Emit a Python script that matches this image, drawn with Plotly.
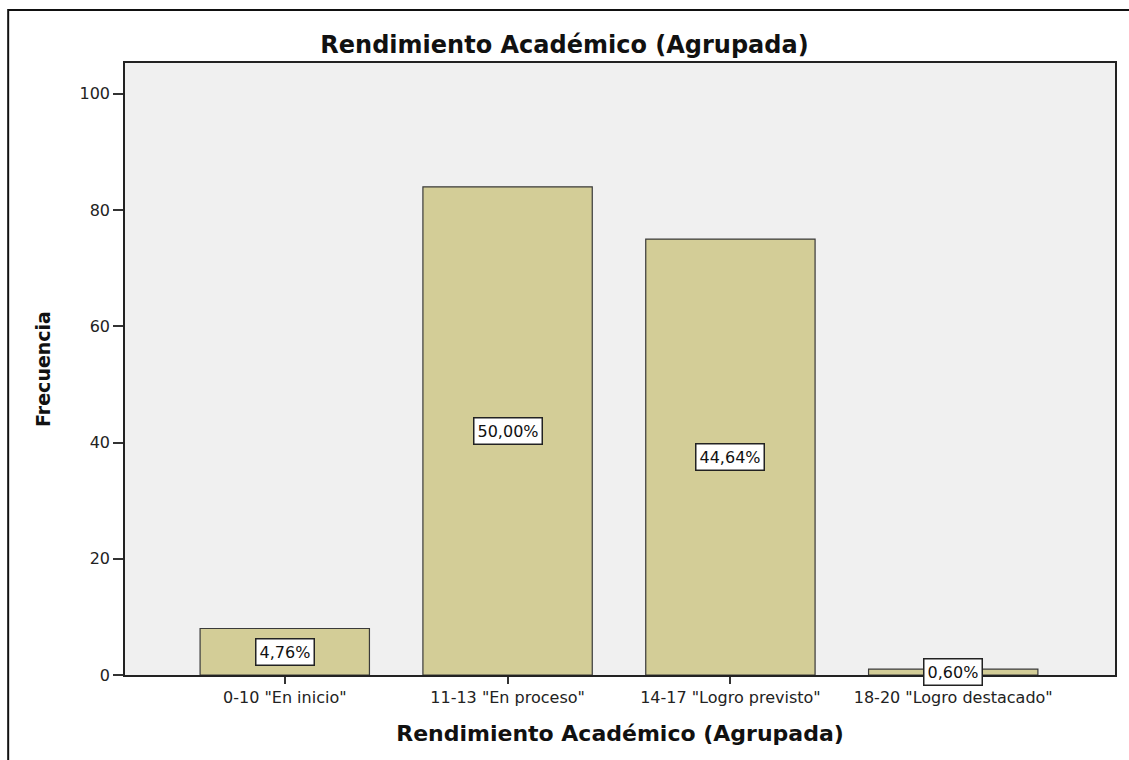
import plotly.graph_objects as go

categories = ['0-10 "En inicio"', '11-13 "En proceso"', '14-17 "Logro previsto"', '18-20 "Logro destacado"']
frecuencias = [8, 84, 75, 1]
porcentajes = ['4,76%', '50,00%', '44,64%', '0,60%']
y_ticks = [0, 20, 40, 60, 80, 100]

FONT = 'DejaVu Sans, Arial'

fig = go.Figure()
fig.add_trace(go.Bar(
    x=list(range(len(categories))),
    y=frecuencias,
    width=0.76,
    marker=dict(color='#d3cd97', line=dict(color='#3a3a3a', width=1.2)),
    hoverinfo='skip',
))

for i, (v, p) in enumerate(zip(frecuencias, porcentajes)):
    fig.add_annotation(
        x=i, y=v / 2, text=p, showarrow=False,
        font=dict(family=FONT, size=16, color='#111'),
        bgcolor='white', bordercolor='#222', borderwidth=1.5, borderpad=3,
    )

# outer frame
fig.add_shape(type='rect', xref='paper', yref='paper',
              x0=-0.118, x1=1.03, y0=-0.2, y1=1.0866,
              line=dict(color='#111', width=2), fillcolor='rgba(0,0,0,0)', layer='below')

fig.update_layout(
    width=1129, height=760,
    margin=dict(l=125, r=12, t=63, b=85),
    paper_bgcolor='white',
    plot_bgcolor='#f0f0f0',
    showlegend=False,
    title=dict(text='<b>Rendimiento Académico (Agrupada)</b>', x=0.5, xanchor='center',
               y=1 - 45 / 760, yanchor='middle',
               font=dict(family=FONT, size=24, color='#111')),
    xaxis=dict(
        tickmode='array', tickvals=list(range(len(categories))), ticktext=categories,
        range=[-0.717, 3.726],
        ticks='outside', ticklen=7, tickcolor='#333', tickwidth=1.5,
        tickfont=dict(family=FONT, size=16, color='#222'),
        showline=True, linecolor='#222', linewidth=1.5, mirror=True,
        showgrid=False, zeroline=False,
        title=dict(text='<b>Rendimiento Académico (Agrupada)</b>', standoff=20,
                   font=dict(family=FONT, size=22, color='#111')),
    ),
    yaxis=dict(
        range=[0, 105.3], tickmode='array', tickvals=y_ticks,
        ticks='outside', ticklen=10, tickcolor='#333', tickwidth=1.5,
        tickfont=dict(family=FONT, size=16, color='#222'),
        showline=True, linecolor='#222', linewidth=1.5, mirror=True,
        showgrid=False, zeroline=False,
        title=dict(text='<b>Frecuencia</b>', standoff=24,
                   font=dict(family=FONT, size=19, color='#111')),
    ),
)

fig.write_html('out.html', config={'displayModeBar': False},
               post_script="document.body.style.margin='0';")
